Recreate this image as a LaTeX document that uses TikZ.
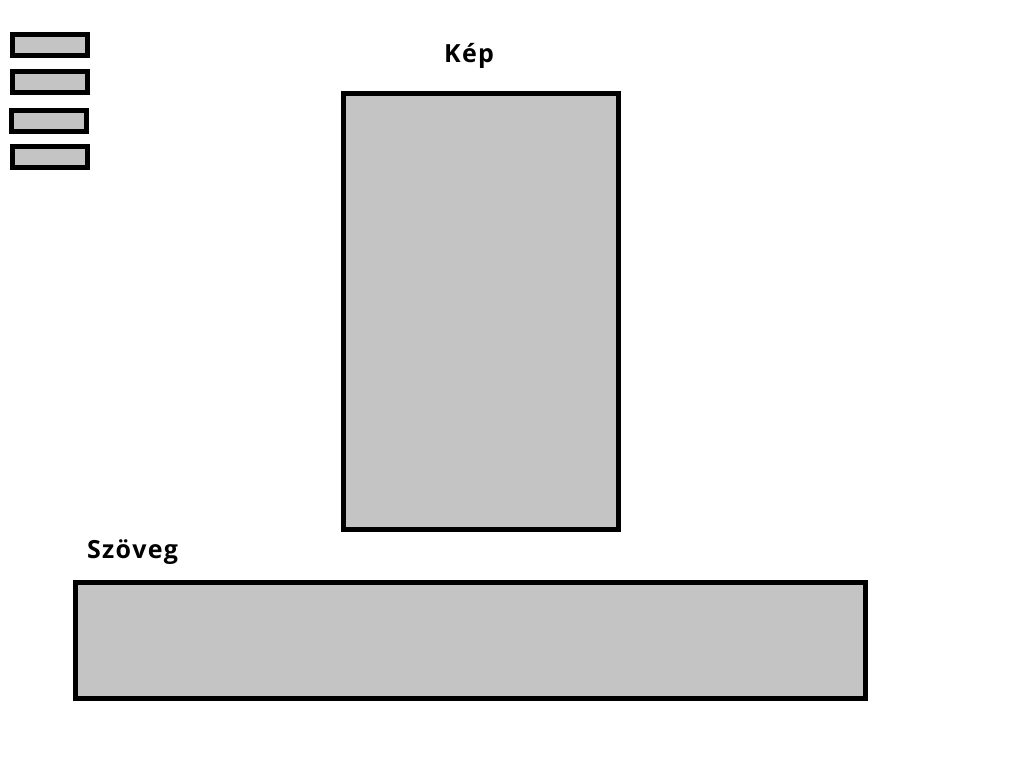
\documentclass[tikz,border=0pt]{standalone}
\usepackage{fontspec}
\setmainfont{Open Sans}[LetterSpace=5]
\begin{document}
\begin{tikzpicture}[x=1pt,y=-1pt,
  box/.style={draw=black,fill={rgb,255:red,196;green,196;blue,196},line width=5pt,inner sep=0pt,outer sep=0pt},
  small/.style={box,minimum width=75pt,minimum height=21pt},
  lbl/.style={font=\fontsize{25}{28}\selectfont\bfseries,inner sep=0pt,anchor=base west}]
\useasboundingbox (0,0) rectangle (1019,779);
\node[small] (m1) at (50,45) {};
\node[small] (m2) at (50,82) {};
\node[small] (m3) at (49,121) {};
\node[small] (m4) at (50,157) {};
\node[box,minimum width=275pt,minimum height=436pt] (kep) at (481,311.5) {};
\node[box,minimum width=790pt,minimum height=116pt] (szoveg) at (470.5,640.5) {};
\node[lbl] (kepl) at (444,62) {Kép};
\node[lbl] (szl) at (87,558) {Szöveg};
\end{tikzpicture}
\end{document}
